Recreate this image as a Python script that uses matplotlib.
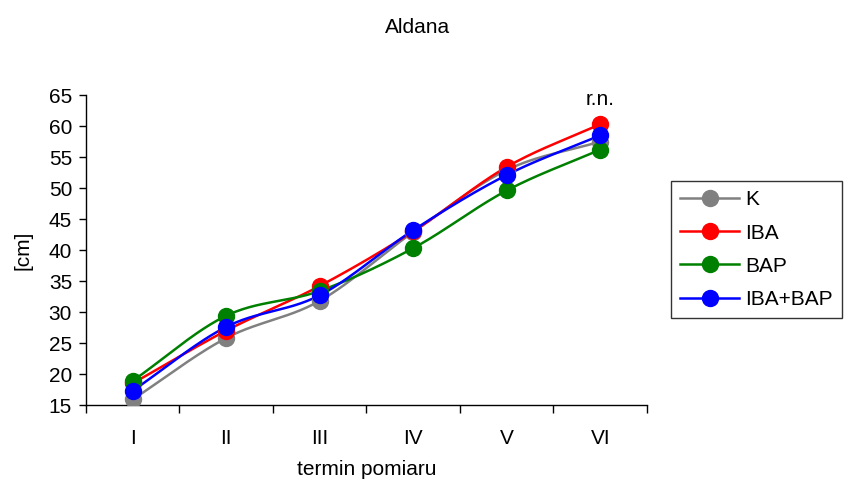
import numpy as np
import matplotlib
matplotlib.use("Agg")
import matplotlib.pyplot as plt

plt.rcParams['font.family'] = ['Liberation Sans', 'DejaVu Sans']

categories = ['I', 'II', 'III', 'IV', 'V', 'VI']
series_names = ['K', 'IBA', 'BAP', 'IBA+BAP']
k_values = [15.9, 25.8, 31.8, 42.9, 52.9, 57.5]
iba_values = [18.5, 27.0, 34.2, 43.0, 53.4, 60.3]
bap_values = [18.9, 29.4, 33.4, 40.3, 49.6, 56.2]
iba_bap_values = [17.3, 27.6, 32.7, 43.2, 52.1, 58.5]
series_colors = ['#808080', '#ff0000', '#008000', '#0000ff']
y_ticks = [15, 20, 25, 30, 35, 40, 45, 50, 55, 60, 65]


def smooth(x, y, n=30, tension=0.5):
    """Cardinal spline through the points, like a smoothed line series."""
    x = np.asarray(x, float)
    y = np.asarray(y, float)
    px = np.concatenate([[2 * x[0] - x[1]], x, [2 * x[-1] - x[-2]]])
    py = np.concatenate([[2 * y[0] - y[1]], y, [2 * y[-1] - y[-2]]])
    xs, ys = [], []
    t = np.linspace(0, 1, n)
    for i in range(1, len(px) - 2):
        p0, p1, p2, p3 = (np.array([px[j], py[j]]) for j in (i - 1, i, i + 1, i + 2))
        m1 = tension * (p2 - p0)
        m2 = tension * (p3 - p1)
        h00 = 2 * t**3 - 3 * t**2 + 1
        h10 = t**3 - 2 * t**2 + t
        h01 = -2 * t**3 + 3 * t**2
        h11 = t**3 - t**2
        pts = (np.outer(h00, p1) + np.outer(h10, m1) +
               np.outer(h01, p2) + np.outer(h11, m2))
        xs.append(pts[:, 0])
        ys.append(pts[:, 1])
    return np.concatenate(xs), np.concatenate(ys)


fig = plt.figure(figsize=(8.53, 4.84), dpi=100)
ax = fig.add_axes([0.1008, 0.1632, 0.6577, 0.6405])

x = np.arange(len(categories))
all_series = [k_values, iba_values, bap_values, iba_bap_values]
for name, vals, col in zip(series_names, all_series, series_colors):
    sx, sy = smooth(x, vals)
    ax.plot(sx, sy, color=col, lw=1.8, zorder=2)
    ax.plot(x, vals, 'o', color=col, ms=11.5, zorder=3)
    ax.plot([], [], '-o', color=col, lw=1.8, ms=11.5, label=name)

ax.set_xlim(-0.5, len(categories) - 0.5)
ax.set_ylim(15, 65)
ax.set_yticks(y_ticks)
ax.set_xticks(x)
ax.set_xticklabels(categories)
ax.set_xticks(np.arange(-0.5, len(categories)), minor=True)
ax.tick_params(axis='x', which='major', length=0, pad=17, labelsize=15)
ax.tick_params(axis='x', which='minor', length=6, width=1, direction='out')
ax.tick_params(axis='y', length=5, width=1, direction='out', labelsize=15, pad=5)
for side in ('top', 'right'):
    ax.spines[side].set_visible(False)
for side in ('left', 'bottom'):
    ax.spines[side].set_linewidth(1)

ax.set_ylabel('[cm]', fontsize=15, labelpad=12)
ax.set_xlabel('termin pomiaru', fontsize=15, labelpad=9)
fig.text(0.49, 0.944, 'Aldana', ha='center', va='center', fontsize=15)
ax.text(5, 62.7, 'r.n.', ha='center', va='bottom', fontsize=15)

leg = ax.legend(loc='upper left', bbox_to_anchor=(1.043, 0.7226), fontsize=15,
                frameon=True, fancybox=False, edgecolor='black',
                handlelength=2.8, handletextpad=0.3, labelspacing=0.68,
                borderpad=0.45, borderaxespad=0)
leg.get_frame().set_linewidth(1)

fig.savefig('out.png', dpi=100)
